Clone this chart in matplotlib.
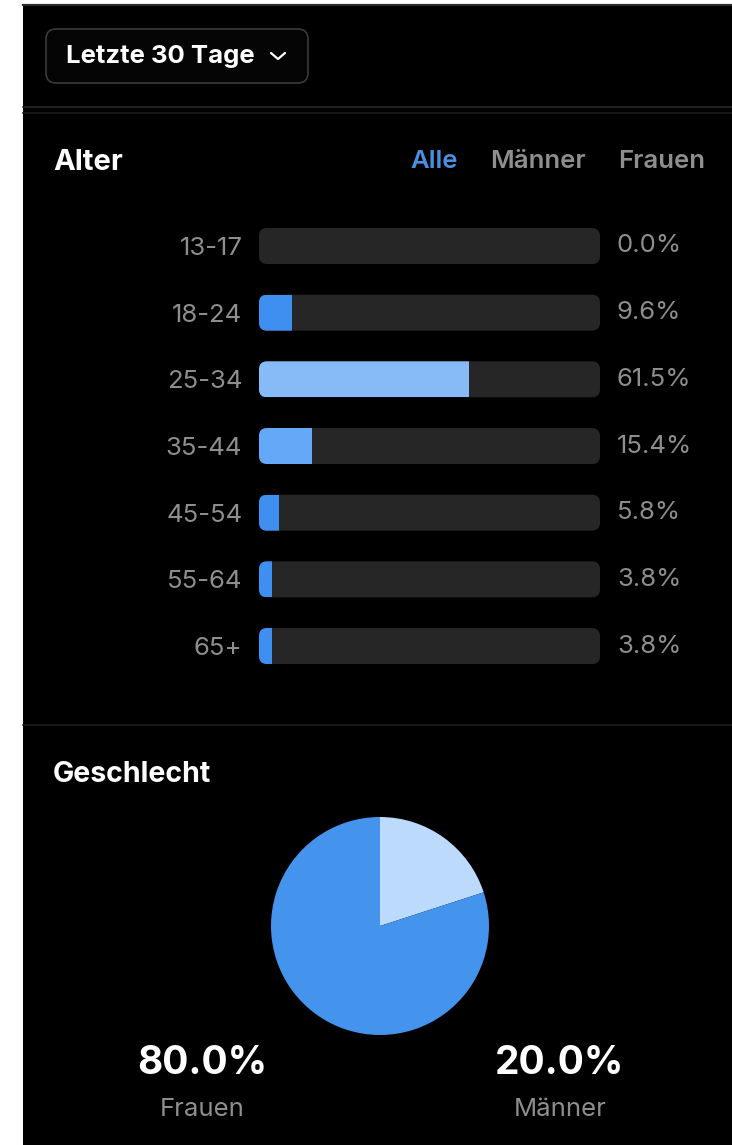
import matplotlib
matplotlib.use("Agg")
import matplotlib.pyplot as plt
from matplotlib.patches import FancyBboxPatch, Rectangle

plt.rcParams['font.family'] = ['Inter', 'DejaVu Sans']

# ---- data ----
age_groups = ['13-17', '18-24', '25-34', '35-44', '45-54', '55-64', '65+']
age_shares = [0.0, 9.6, 61.5, 15.4, 5.8, 3.8, 3.8]
bar_colors = ['#3f8ff0', '#3f8ff0', '#86bbf8', '#63a9f7', '#3f8ff0', '#3f8ff0', '#3f8ff0']

gender_labels = ['Männer', 'Frauen']
gender_shares = [20.0, 80.0]
pie_colors = ['#bcdafc', '#4493ec']

filter_tabs = ['Alle', 'Männer', 'Frauen']

W, H = 732, 1145
BG = '#000000'
GRAY = '#8e8e8e'

fig = plt.figure(figsize=(W / 100, H / 100), dpi=100, facecolor='white')

# full-figure axes in pixel coordinates for the frame
ax = fig.add_axes([0, 0, 1, 1])
ax.set_xlim(0, W)
ax.set_ylim(H, 0)
ax.axis('off')

ax.add_patch(Rectangle((23, 4), W - 23, H - 4, facecolor=BG, edgecolor='none'))
ax.plot([23, W], [5, 5], color='#2a2a2a', lw=1.6)
ax.plot([23, W], [107, 107], color='#262626', lw=1.2)
ax.plot([23, W], [113, 113], color='#1c1c1c', lw=1.2)
ax.plot([23, W], [725, 725], color='#1e1e1e', lw=1.2)

# dropdown button
ax.add_patch(FancyBboxPatch((46, 29), 262, 54, boxstyle='round,pad=0,rounding_size=10',
                            facecolor='#050505', edgecolor='#3a3a3a', lw=1.2))
ax.text(66, 56, 'Letzte 30 Tage', color='white', fontsize=18.5, fontweight='bold',
        ha='left', va='center')
ax.plot([271, 278, 285], [53, 59, 53], color='white', lw=1.6, solid_capstyle='round')

# section headers
ax.text(53, 162, 'Alter', color='white', fontsize=21, fontweight='bold', va='center')
tab_x = [410, 490, 618]
for lbl, x in zip(filter_tabs, tab_x):
    ax.text(x, 162, lbl, color='#4a90e2' if lbl == 'Alle' else GRAY,
            fontsize=18.5, fontweight='semibold', va='center')
ax.text(53, 774, 'Geschlecht', color='white', fontsize=20.5, fontweight='bold', va='center')

# ---- age bars ----
x0, x1 = 259, 600
row0, step = 246, 66.67
n = len(age_groups)
top = row0 - step / 2
bot = row0 + step * (n - 0.5)
axb = fig.add_axes([x0 / W, 1 - bot / H, (x1 - x0) / W, (bot - top) / H])
axb.set_facecolor('none')
axb.set_xlim(0, 100)
axb.set_ylim(n - 0.5, -0.5)
bar_h = 36 / step
px_x = 100 / (x1 - x0)
px_y = 1 / step
rad = 8 * px_x
for i, (grp, val, col) in enumerate(zip(age_groups, age_shares, bar_colors)):
    track = FancyBboxPatch((0, i - bar_h / 2), 100, bar_h,
                           boxstyle=f'round,pad=0,rounding_size={rad}',
                           mutation_aspect=px_y / px_x,
                           facecolor='#262626', edgecolor='none')
    axb.add_patch(track)
    bars = axb.barh(i, val, height=bar_h, color=col, edgecolor='none')
    for b in bars:
        b.set_clip_path(track)
    axb.text(100 + 17 * px_x, i, f'{val:.1f}%', color=GRAY, fontsize=18.5,
             ha='left', va='center', clip_on=False)
axb.set_yticks(range(n), age_groups)
axb.tick_params(axis='y', length=0, pad=12, labelsize=18.5, labelcolor=GRAY)
axb.set_xticks([])
for s in axb.spines.values():
    s.set_visible(False)

# ---- gender pie ----
cx, cy, r = 380, 926, 109
axp = fig.add_axes([(cx - r) / W, 1 - (cy + r) / H, 2 * r / W, 2 * r / H])
axp.pie(gender_shares, colors=pie_colors, startangle=90, counterclock=False,
        radius=1, wedgeprops=dict(linewidth=0))
axp.set_xlim(-1, 1)
axp.set_ylim(-1, 1)
axp.axis('off')

# totals under the pie
label_x = {'Frauen': 202, 'Männer': 560}
for lbl, val in zip(gender_labels, gender_shares):
    x = label_x[lbl]
    ax.text(x, 1064, f'{val:.1f}%', color='white', fontsize=28, fontweight='bold',
            ha='center', va='center')
    ax.text(x, 1110, lbl, color=GRAY, fontsize=18.5, ha='center', va='center')

fig.savefig('out.png', dpi=100, facecolor=fig.get_facecolor())
